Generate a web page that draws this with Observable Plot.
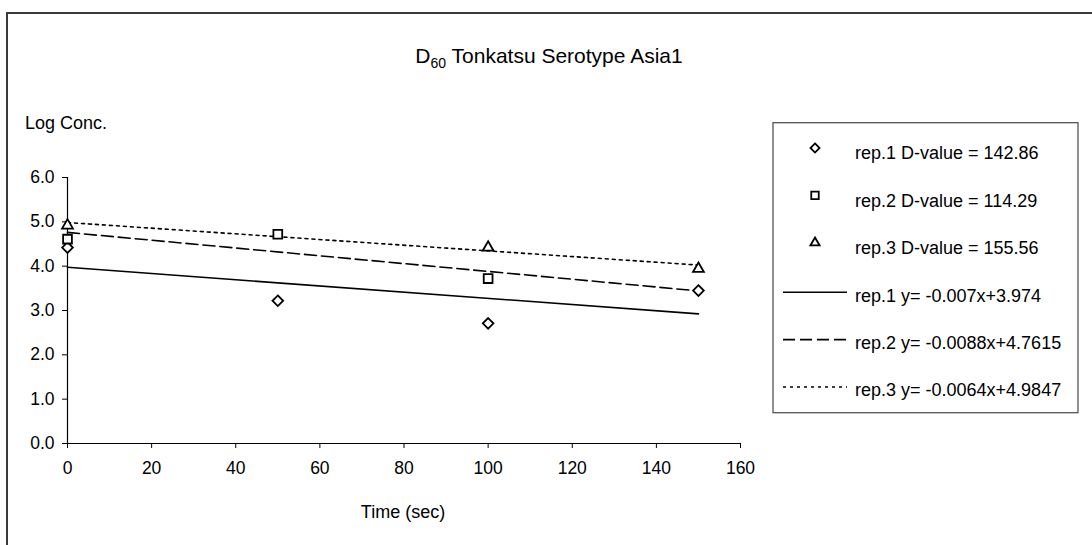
<!DOCTYPE html>
<html><head><meta charset="utf-8">
<script src="https://cdn.jsdelivr.net/npm/d3@7"></script>
<script src="https://cdn.jsdelivr.net/npm/@observablehq/plot@0.6"></script>
<style>
html,body{margin:0;padding:0;background:#fff}
svg{display:block}
</style>
</head><body><div id="chart"></div>
<script>
// ---- data ----
const times = [0, 50, 100, 150];
const rep1 = [4.42, 3.22, 2.71, 3.45];
const rep2 = [4.61, 4.72, 3.72, null];
const rep3 = [4.92, null, 4.42, 3.94];
const seriesNames = ["rep.1", "rep.2", "rep.3"];
const dValues = ["142.86", "114.29", "155.56"];
const slopes = [-0.007, -0.0088, -0.0064];
const intercepts = [3.974, 4.7615, 4.9847];
const equations = ["y= -0.007x+3.974", "y= -0.0088x+4.7615", "y= -0.0064x+4.9847"];
const xTicks = [0, 20, 40, 60, 80, 100, 120, 140, 160];
const yTicks = [0, 1, 2, 3, 4, 5, 6];
const titleMain = "D";
const titleSub = "60";
const titleRest = " Tonkatsu Serotype Asia1";
const yLabel = "Log Conc.";
const xLabel = "Time (sec)";

// ---- derived tables ----
const allSeries = [rep1, rep2, rep3];
const symbols = ["diamond2", "square2", "triangle2"];
const symbolR = [4.8, 5.6, 5.2];
const dashes = [null, "12,5", "3,4"];
const points = allSeries.map((vals, i) =>
  times.map((t, j) => ({t, v: vals[j], s: seriesNames[i]})).filter(d => d.v != null));
const tMin = d3.min(times), tMax = d3.max(times);
const trend = slopes.map((m, i) => [tMin, tMax].map(t => ({t, v: m * t + intercepts[i]})));

const FONT = "'Liberation Sans', Arial, sans-serif";
const W = 1092, H = 545;

const marks = [
  Plot.axisX({ticks: xTicks, tickSize: 5, tickPadding: 13, label: null, fontSize: 17.5}),
  Plot.axisY({ticks: yTicks, tickSize: 5, tickPadding: 8, label: null, fontSize: 17.5, tickFormat: d => d.toFixed(1)}),
  Plot.ruleX([0], {stroke: "#000", strokeWidth: 1.2}),
  Plot.ruleY([0], {stroke: "#000", strokeWidth: 1.2})
];
trend.forEach((tr, i) => {
  marks.push(Plot.line(tr, {x: "t", y: "v", stroke: "#000", strokeWidth: 1.6, strokeDasharray: dashes[i] || undefined}));
});
points.forEach((pts, i) => {
  marks.push(Plot.dot(pts, {x: "t", y: "v", symbol: symbols[i], r: symbolR[i], stroke: "#000", strokeWidth: 1.8, fill: "#fff"}));
});

const chart = Plot.plot({
  width: W, height: H,
  marginLeft: 67, marginRight: 352, marginTop: 177, marginBottom: 102,
  style: {fontFamily: FONT, fontSize: "17.5px", color: "#000", background: "#fff"},
  x: {domain: [0, 160]},
  y: {domain: [0, 6]},
  marks
});
document.getElementById("chart").appendChild(chart);

// ---- annotations, frame and legend ----
const svg = d3.select(chart);
svg.append("path").attr("d", `M7,${H} V13 H${W}`).attr("fill", "none").attr("stroke", "#3a3a3a").attr("stroke-width", 2);

const title = svg.append("text").attr("x", 549).attr("y", 63).attr("text-anchor", "middle")
  .attr("font-family", FONT).attr("font-size", 21).attr("fill", "#000");
title.append("tspan").text(titleMain);
title.append("tspan").attr("dy", 5).attr("font-size", 14).text(titleSub);
title.append("tspan").attr("dy", -5).text(titleRest);

svg.append("text").attr("x", 25).attr("y", 123).attr("dy", "0.35em").attr("text-anchor", "start")
  .attr("font-family", FONT).attr("font-size", 18).attr("fill", "#000").text(yLabel);
svg.append("text").attr("x", 403).attr("y", 512).attr("dy", "0.35em").attr("text-anchor", "middle")
  .attr("font-family", FONT).attr("font-size", 18).attr("fill", "#000").text(xLabel);

// legend
const lg = svg.append("g").attr("text-anchor", "start");
lg.append("rect").attr("x", 773).attr("y", 122.7).attr("width", 305).attr("height", 290)
  .attr("fill", "#fff").attr("stroke", "#555").attr("stroke-width", 1.3);
const rowY = i => 153 + i * 47.4;
const d3sym = {diamond2: d3.symbolDiamond2, square2: d3.symbolSquare2, triangle2: d3.symbolTriangle2};
const legendItems = [];
seriesNames.forEach((s, i) => legendItems.push({kind: "sym", i, label: `${s} D-value = ${dValues[i]}`}));
seriesNames.forEach((s, i) => legendItems.push({kind: "line", i, label: `${s} ${equations[i]}`}));
legendItems.forEach((it, k) => {
  const y = rowY(k);
  if (it.kind === "sym") {
    const r = symbolR[it.i] * 0.85;
    lg.append("path").attr("transform", `translate(815,${y - 5})`)
      .attr("d", d3.symbol(d3sym[symbols[it.i]], Math.PI * r * r)())
      .attr("fill", "#fff").attr("stroke", "#000").attr("stroke-width", 1.8);
  } else {
    const ln = lg.append("line").attr("x1", 783).attr("x2", 847).attr("y1", y - 3).attr("y2", y - 3)
      .attr("stroke", "#000").attr("stroke-width", 1.6);
    if (dashes[it.i]) ln.attr("stroke-dasharray", dashes[it.i]);
  }
  lg.append("text").attr("x", 855).attr("y", y).attr("dy", "0.35em").attr("text-anchor", "start")
    .attr("font-family", FONT).attr("font-size", 18).attr("fill", "#000").text(it.label);
});
</script>
</body></html>
